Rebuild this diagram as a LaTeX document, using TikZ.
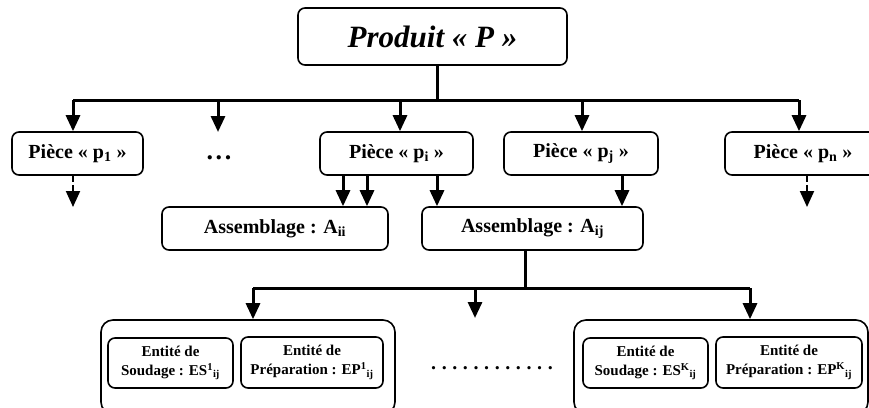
\documentclass[tikz,border=0pt]{standalone}
\usepackage{fontspec}
\setmainfont{Liberation Serif}
\usetikzlibrary{arrows.meta}

\begin{document}
\begin{tikzpicture}[x=1pt,y=-1pt,
  piece/.style={draw,line width=1.6pt,rounded corners=7pt,inner sep=0pt,
    minimum height=43pt,font=\bfseries\fontsize{20}{22}\selectfont},
  entity/.style={draw,line width=1.6pt,rounded corners=7pt,inner sep=0pt,
    align=center,font=\bfseries\fontsize{15}{19}\selectfont},
  group/.style={draw,line width=1.6pt,rounded corners=12pt,inner sep=0pt},
  dots/.style={font=\bfseries\fontsize{20}{22}\selectfont\addfontfeature{LetterSpace=28}},
  bus/.style={line width=3pt},
  arr/.style={line width=3pt,-{Triangle[length=16pt,width=14pt]}},
  darr/.style={line width=2pt,dash pattern=on 6pt off 3pt,-{Triangle[length=16pt,width=14pt]}}]
  \useasboundingbox (0,0) rectangle (869,407);
  \node [piece, minimum width=269pt, minimum height=57pt,
    font=\bfseries\itshape\fontsize{31}{33}\selectfont] (prod) at (432.5,36.5) {Produit « P »};
  \node [piece, minimum width=131pt] (p1) at (77.5,153.5) {Pièce « p\textsubscript{1} »};
  \node [dots, font=\bfseries\fontsize{26}{28}\selectfont\addfontfeature{LetterSpace=10}] (dots1) at (219,158) {...};
  \node [piece, minimum width=153pt] (pi) at (396.5,153.5) {Pièce « p\textsubscript{i} »};
  \node [piece, minimum width=154pt] (pj) at (581,153.5) {Pièce « p\textsubscript{j} »};
  \node [piece, minimum width=156pt] (pn) at (803,153.5) {Pièce « p\textsubscript{n} »};
  \node [piece, minimum width=226pt] (aii) at (275,228.5) {Assemblage : A\textsubscript{ii}};
  \node [piece, minimum width=221pt] (aij) at (532.5,228.5) {Assemblage : A\textsubscript{ij}};
  \node [group, minimum width=294pt, minimum height=94pt] (g1) at (248,367) {};
  \node [group, minimum width=294pt, minimum height=94pt] (gk) at (721,367) {};
  \node [entity, minimum width=125pt, minimum height=50pt] (es1) at (170.5,363)
    {Entité de\\Soudage : ES\textsuperscript{1}\textsubscript{ij}};
  \node [entity, minimum width=142pt, minimum height=51pt] (ep1) at (312,362.5)
    {Entité de\\Préparation : EP\textsuperscript{1}\textsubscript{ij}};
  \node [dots] (dots2) at (492,368) {............};
  \node [entity, minimum width=125pt, minimum height=50pt] (esk) at (645.5,363)
    {Entité de\\Soudage : ES\textsuperscript{K}\textsubscript{ij}};
  \node [entity, minimum width=146pt, minimum height=51pt] (epk) at (789,362.5)
    {Entité de\\Préparation : EP\textsuperscript{K}\textsubscript{ij}};
  % first level
  \coordinate (trunk) at (437,100);
  \coordinate (busl) at (73,100);
  \coordinate (busr) at (799,100);
  \coordinate (dotsup) at (218,100);
  \coordinate (pitop) at (400,100);
  \coordinate (pjtop) at (582,100);
  \coordinate (dotsend) at (218,132);
  \draw [bus] (prod.south -| trunk) -- (trunk);
  \draw [bus] (busl) -- (busr);
  \draw [arr] (busl) -- (busl |- p1.north);
  \draw [arr] (dotsup) -- (dotsend);
  \draw [arr] (pitop) -- (pitop |- pi.north);
  \draw [arr] (pjtop) -- (pjtop |- pj.north);
  \draw [arr] (busr) -- (busr |- pn.north);
  % dashed ends
  \coordinate (d1) at (73,207);
  \coordinate (dn) at (807,207);
  \draw [darr] (d1 |- p1.south) -- (d1);
  \draw [darr] (dn |- pn.south) -- (dn);
  % assemblies
  \coordinate (a1) at (343,0);
  \coordinate (a2) at (367,0);
  \coordinate (a3) at (437,0);
  \coordinate (a4) at (622,0);
  \draw [arr] (a1 |- pi.south) -- (a1 |- aii.north);
  \draw [arr] (a2 |- pi.south) -- (a2 |- aii.north);
  \draw [arr] (a3 |- pi.south) -- (a3 |- aij.north);
  \draw [arr] (a4 |- pj.south) -- (a4 |- aij.north);
  % entities
  \coordinate (trunk2) at (525,288);
  \coordinate (bus2l) at (253,288);
  \coordinate (bus2r) at (750,288);
  \coordinate (dots2up) at (475,288);
  \coordinate (dots2end) at (475,318);
  \draw [bus] (trunk2 |- aij.south) -- (trunk2);
  \draw [bus] (bus2l) -- (bus2r);
  \draw [arr] (bus2l) -- (bus2l |- g1.north);
  \draw [arr] (dots2up) -- (dots2end);
  \draw [arr] (bus2r) -- (bus2r |- gk.north);
\end{tikzpicture}
\end{document}
